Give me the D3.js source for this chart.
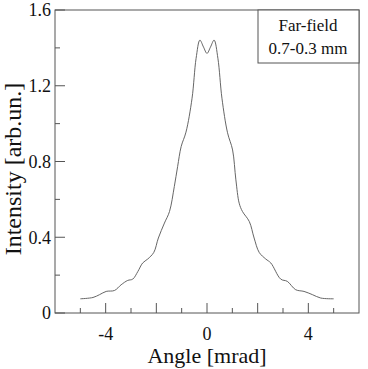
<!DOCTYPE html>
<html>
<head>
<meta charset="utf-8">
<script src="https://cdn.jsdelivr.net/npm/d3@7"></script>
<style>
  body { margin: 0; background: #fff; }
  svg { display: block; font-family: "Liberation Serif", "Times New Roman", serif; }
</style>
</head>
<body>
<svg width="368" height="369"></svg>
<script>
// values
var angle = [-5.0, -4.5, -4.24, -3.98, -3.65, -3.39, -3.13, -2.93, -2.73, -2.54, -2.34, -2.1,
  -1.92, -1.68, -1.48, -1.29, -1.16, -1.02, -0.83, -0.59, -0.43, -0.28, -0.14, 0,
  0.14, 0.28, 0.43, 0.59, 0.81, 1.01, 1.14, 1.27, 1.4, 1.67, 1.86, 2.06, 2.32, 2.52,
  2.91, 3.17, 3.5, 3.83, 4.16, 4.49, 5.0];
var intensity = [0.075, 0.082, 0.097, 0.114, 0.119, 0.149, 0.172, 0.179, 0.219, 0.264, 0.285, 0.32,
  0.396, 0.475, 0.536, 0.668, 0.773, 0.879, 0.955, 1.134, 1.345, 1.441, 1.405, 1.371,
  1.405, 1.441, 1.345, 1.134, 0.952, 0.861, 0.703, 0.58, 0.536, 0.483, 0.396, 0.32, 0.285, 0.264,
  0.179, 0.167, 0.123, 0.114, 0.097, 0.079, 0.075];
var xLabelTicks = [-4, 0, 4];
var yLabelTicks = [0, 0.4, 0.8, 1.2, 1.6];
var legendLines = ['Far-field', '0.7-0.3 mm'];

var svg = d3.select('svg');
var padL = 55, padT = 10, w = 304, h = 303;
var axisColor = '#555';

var x = d3.scaleLinear().domain([-6, 6]).range([padL, padL + w]);
var y = d3.scaleLinear().domain([0, 1.6]).range([padT + h, padT]);

// frame
svg.append('rect')
  .attr('x', padL).attr('y', padT)
  .attr('width', w).attr('height', h)
  .attr('fill', 'none')
  .attr('stroke', axisColor)
  .attr('stroke-width', 1);

// x ticks (inside, pointing up)
var xTicks = d3.range(-5, 6, 1);
svg.selectAll('.xtick')
  .data(xTicks)
  .enter()
  .append('line')
  .attr('class', 'xtick')
  .attr('x1', function(d) { return x(d); })
  .attr('x2', function(d) { return x(d); })
  .attr('y1', padT + h)
  .attr('y2', function(d) { return padT + h - (d % 2 === 0 ? 10 : 5); })
  .attr('stroke', axisColor);

svg.selectAll('.xlab')
  .data(xLabelTicks)
  .enter()
  .append('text')
  .attr('class', 'xlab')
  .attr('x', function(d) { return x(d); })
  .attr('y', 340)
  .attr('text-anchor', 'middle')
  .attr('font-size', 18)
  .attr('fill', '#111')
  .text(function(d) { return d; });

// y ticks (inside, pointing right)
var yTicks = d3.range(0, 1.61, 0.2);
svg.selectAll('.ytick')
  .data(yTicks)
  .enter()
  .append('line')
  .attr('class', 'ytick')
  .attr('x1', padL)
  .attr('x2', function(d, i) { return padL + (i % 2 === 0 ? 10 : 5); })
  .attr('y1', function(d) { return y(d); })
  .attr('y2', function(d) { return y(d); })
  .attr('stroke', axisColor);

svg.selectAll('.ylab')
  .data(yLabelTicks)
  .enter()
  .append('text')
  .attr('class', 'ylab')
  .attr('x', padL - 4)
  .attr('y', function(d) { return y(d); })
  .attr('dy', '0.35em')
  .attr('text-anchor', 'end')
  .attr('font-size', 18)
  .attr('fill', '#111')
  .text(function(d) { return d; });

// axis titles
svg.append('text')
  .attr('x', x(0))
  .attr('y', 363)
  .attr('text-anchor', 'middle')
  .attr('font-size', 22)
  .attr('fill', '#111')
  .text('Angle [mrad]');

svg.append('text')
  .attr('transform', 'translate(21,' + 169 + ') rotate(-90)')
  .attr('text-anchor', 'middle')
  .attr('font-size', 24)
  .attr('fill', '#111')
  .text('Intensity [arb.un.]');

// curve
var points = angle.map(function(a, i) { return [a, intensity[i]]; });
var line = d3.line()
  .x(function(d) { return x(d[0]); })
  .y(function(d) { return y(d[1]); })
  .curve(d3.curveCatmullRom.alpha(0.5));

svg.append('path')
  .datum(points)
  .attr('d', line)
  .attr('fill', 'none')
  .attr('stroke', '#555')
  .attr('stroke-width', 0.9);

// legend box
svg.append('rect')
  .attr('x', 258).attr('y', padT)
  .attr('width', 101).attr('height', 53)
  .attr('fill', '#fff')
  .attr('stroke', axisColor);

svg.selectAll('.leg')
  .data(legendLines)
  .enter()
  .append('text')
  .attr('class', 'leg')
  .attr('x', 308)
  .attr('y', function(d, i) { return 31 + i * 23; })
  .attr('text-anchor', 'middle')
  .attr('font-size', 17)
  .attr('fill', '#111')
  .text(function(d) { return d; });
</script>
</body>
</html>
